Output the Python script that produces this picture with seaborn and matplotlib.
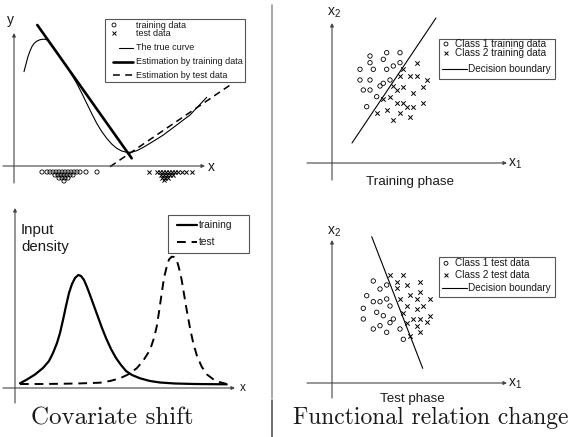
import numpy as np
import pandas as pd
import matplotlib
matplotlib.use("Agg")
import matplotlib.pyplot as plt
from matplotlib.lines import Line2D
from matplotlib.patches import Rectangle
import seaborn as sns

sns.set_theme(style="white")
plt.rcParams["font.family"] = ["Liberation Sans", "DejaVu Sans"]
plt.rcParams["mathtext.fontset"] = "custom"
plt.rcParams["mathtext.rm"] = "Liberation Sans"
plt.rcParams["mathtext.it"] = "Liberation Sans"

# ---------------- data (panel units, origin at axis crossing) ----------------
# top-left: regression under covariate shift
true_x = [10, 12, 14, 16, 18, 20, 22.7, 26, 29.3, 32, 34.3, 38, 42.7, 47.7,
          52.7, 57.7, 62.7, 67.7, 72.7, 77.7, 82.7, 87.7, 92.7, 97.7, 102.7,
          107.7, 112.7, 117.7, 122.7, 129, 136, 142.7, 149.3, 156, 162.7,
          169.3, 176, 184, 192.7]
true_y = [94.3, 102, 109.5, 115, 119.5, 122.5, 124.8, 126.3, 126.8, 126.5,
          125.5, 121, 114.3, 106.8, 99.3, 91.3, 82.7, 73, 62.7, 52.5, 42.7,
          34.5, 27.7, 22, 17.7, 15, 13.7, 13.8, 15.3, 18.5, 22.7, 26.8, 31,
          36, 41, 46, 51, 59.5, 68.7]
est_train_x = [23.3, 117.7]
est_train_y = [141, 7.7]
est_test_x = [96, 218.7]
est_test_y = [-0.7, 82.7]
train_pts_x = [28, 33, 36, 39, 42, 45, 48, 51, 54, 57, 60, 63, 66, 72, 83,
               41, 44, 47, 50, 53, 56, 59,
               45, 48, 51, 54,
               50]
train_pts_y = [-6] * 15 + [-9] * 7 + [-12] * 4 + [-15]
test_pts_x = [135, 143, 146, 149, 152, 155, 158, 161, 164, 168, 172, 178,
              147, 150, 153, 156, 159,
              148, 151, 154,
              150]
test_pts_y = [-6] * 12 + [-9] * 5 + [-12] * 3 + [-14]

# bottom-left: input densities
dens_train_x = [5, 12, 20, 28, 34, 38, 42, 45, 48, 51, 54, 57, 60, 63.3, 66,
                69, 72, 75, 79, 83, 87, 91, 96, 101, 106, 111, 117, 125, 135,
                145, 160, 180, 211.7]
dens_train_y = [4.7, 8.5, 13.5, 20, 27, 35, 45, 55, 68, 82, 95, 104, 110, 113,
                112, 108, 101, 93, 82, 71, 60, 50, 39, 30, 23, 17, 13, 9.7, 7,
                5.5, 4.5, 4, 3.7]
dens_test_x = [5, 25, 45, 65, 85, 95, 105, 113, 121.7, 128, 135, 139, 141.7,
               144, 146.7, 149, 151.7, 154, 156.7, 159, 161.7, 164, 166.7, 169,
               171.7, 175, 178.3, 182, 186.7, 192, 198.3, 205, 211.7]
dens_test_y = [4, 4, 4.2, 4.6, 5.3, 7, 9.7, 13.5, 19.7, 27, 38, 50, 61.3, 76,
               94.7, 110, 121.3, 128.5, 131.3, 131, 128, 120, 108, 94, 78, 60,
               44.7, 32, 21.3, 13.5, 8.7, 5.8, 4]

# top-right: training phase classification
tr_c1_x = [38, 54.7, 68, 38, 51.3, 28, 41.3, 54.7, 61.3, 68, 28, 38, 58, 51.3,
           48, 31.3, 38, 44.7, 34.7]
tr_c1_y = [107, 110.3, 110.3, 100.3, 103.7, 93.7, 93.7, 93.7, 97, 100.3, 83, 83,
           83, 79.7, 77, 73, 73, 66.3, 56.3]
tr_c2_x = [84.7, 71.3, 68, 78, 84.7, 94.7, 61.3, 71.3, 64.7, 91.3, 81.3, 51.3,
           58, 64.7, 71.3, 74.7, 81.3, 91.3, 44.7, 54.7, 68, 78, 61.3]
tr_c2_y = [100.3, 93.7, 87, 87, 87, 83, 77, 76.3, 73, 76.3, 69.7, 63.7, 66.3,
           59.7, 59.7, 56.3, 56.3, 59.7, 49.7, 53, 49.7, 46.3, 43]
tr_bound_x = [20, 104]
tr_bound_y = [20, 145]

# bottom-right: test phase classification
te_c1_x = [41.3, 48, 54.7, 34.7, 41.3, 48, 54.7, 58, 31.3, 44.7, 51.3, 31.3,
           58, 61.3, 41.3, 48, 54.7, 68, 71.3]
te_c1_y = [102, 94, 98, 87.3, 81.3, 81.3, 84, 77, 74.7, 70.7, 67.3, 64, 60.3,
           64, 54, 57.3, 50.7, 54, 43.7]
te_c2_x = [58, 71.3, 64.7, 74.7, 88, 64.7, 88, 68, 78, 84.7, 98, 74.7, 84.7,
           91.3, 71.3, 81.3, 88, 94.7, 98, 74.7, 84.7, 88, 78]
te_c2_y = [108, 108, 101.3, 98, 101.3, 94.7, 91.3, 84, 88, 84, 84, 77, 73.7,
           77, 70.3, 64, 64, 60.7, 67.3, 60.3, 57.3, 50.7, 47.3]
te_bound_x = [39.7, 90.7]
te_bound_y = [146.3, 14.7]

# ---------------- figure ----------------
W, H = 573, 437
fig = plt.figure(figsize=(W / 100, H / 100), dpi=100)
fig.patch.set_facecolor("white")

AX_C = "#444444"
TXT_C = "#1a1a1a"


def panel(px0, py0, px1, py1, ox, oy):
    ax = fig.add_axes([px0 / W, 1 - py1 / H, (px1 - px0) / W, (py1 - py0) / H])
    ax.set_xlim(px0 - ox, px1 - ox)
    ax.set_ylim(oy - py1, oy - py0)
    ax.axis("off")
    return ax


def arrow_axes(ax, xr, yr):
    ax.annotate("", xy=(xr[1], 0), xytext=(xr[0], 0),
                arrowprops=dict(arrowstyle="-|>", lw=0.8, color=AX_C,
                                mutation_scale=5, shrinkA=0, shrinkB=0))
    ax.annotate("", xy=(0, yr[1]), xytext=(0, yr[0]),
                arrowprops=dict(arrowstyle="-|>", lw=0.8, color=AX_C,
                                mutation_scale=5, shrinkA=0, shrinkB=0))


def legend_box(ax, x0, y0, x1, y1):
    ax.add_patch(Rectangle((x0, y1), x1 - x0, y0 - y1, fill=True, fc="white",
                           ec="#555555", lw=0.8, zorder=5))


def line(ax, x, y, lw, ls="-"):
    sns.lineplot(x=x, y=y, ax=ax, color="black", lw=lw, linestyle=ls,
                 sort=False, estimator=None, legend=False)


def circles(ax, x, y, s=10):
    sns.scatterplot(x=x, y=y, ax=ax, marker="o", s=s, facecolor="none",
                    edgecolor="black", linewidth=0.6, legend=False, zorder=4)


def crosses(ax, x, y, s=10):
    sns.scatterplot(x=x, y=y, ax=ax, marker="x", s=s, color="black",
                    linewidth=0.7, legend=False, zorder=4)


# ---- top-left ----
ax1 = panel(0, 0, 270, 195, 14, 166)
arrow_axes(ax1, (-11, 191), (-17, 133))
ax1.text(197, -1, "x", fontsize=10, color=TXT_C, ha="center", va="center")
ax1.text(-4, 146, "y", fontsize=10, color=TXT_C, ha="center", va="center")
line(ax1, true_x, true_y, 0.8)
line(ax1, est_train_x, est_train_y, 1.9)
line(ax1, est_test_x, est_test_y, 1.1, (0, (4.5, 3)))
circles(ax1, train_pts_x, train_pts_y, s=9)
crosses(ax1, test_pts_x, test_pts_y, s=9)
legend_box(ax1, 91, 147, 231, 84)
lf = 6.5
ax1.scatter([100], [141], marker="o", s=8, fc="none", ec="black", lw=0.6, zorder=6)
ax1.scatter([100], [133], marker="x", s=8, c="black", lw=0.7, zorder=6)
ax1.plot([105, 119], [118, 118], color="black", lw=0.8, zorder=6)
ax1.plot([99, 119], [104, 104], color="black", lw=1.9, zorder=6)
ax1.plot([99, 119], [91, 91], color="black", lw=1.1, ls=(0, (4.5, 3.5)), zorder=6)
for yy, t in zip([141, 133, 118, 104, 91],
                 ["training data", "test data", "The true curve",
                  "Estimation by training data", "Estimation by test data"]):
    ax1.text(122, yy, t, fontsize=lf, color=TXT_C, va="center", ha="left", zorder=7)

# ---- bottom-left ----
ax2 = panel(0, 195, 270, 410, 15, 388)
arrow_axes(ax2, (-12, 220), (-15, 180))
ax2.text(228, 0, "x", fontsize=8.5, color=TXT_C, ha="center", va="center")
ax2.text(6, 158, "Input", fontsize=10.8, color=TXT_C, ha="left", va="center")
ax2.text(6, 141, "density", fontsize=10.8, color=TXT_C, ha="left", va="center")
line(ax2, dens_train_x, dens_train_y, 1.6)
line(ax2, dens_test_x, dens_test_y, 1.4, (0, (4.5, 3)))
legend_box(ax2, 153, 173, 234, 135)
ax2.plot([162, 182], [163, 163], color="black", lw=1.6, zorder=6)
ax2.plot([162, 182], [146, 146], color="black", lw=1.4, ls=(0, (4.5, 3)), zorder=6)
ax2.text(184, 163, "training", fontsize=7.3, color=TXT_C, va="center", zorder=7)
ax2.text(184, 146, "test", fontsize=7.3, color=TXT_C, va="center", zorder=7)

# ---- top-right ----
ax3 = panel(275, 0, 573, 195, 332, 163)
arrow_axes(ax3, (-25, 175), (-17, 140))
ax3.text(176, -1, r"$\mathregular{x_1}$", fontsize=10, color=TXT_C, ha="left", va="center")
ax3.text(2, 150, r"$\mathregular{x_2}$", fontsize=10, color=TXT_C, ha="center", va="center")
ax3.text(78, -19, "Training phase", fontsize=9.6, color=TXT_C, ha="center", va="center")
line(ax3, tr_bound_x, tr_bound_y, 0.8)
circles(ax3, tr_c1_x, tr_c1_y)
crosses(ax3, tr_c2_x, tr_c2_y)
legend_box(ax3, 107, 124, 223, 84)
ax3.scatter([114], [119], marker="o", s=8, fc="none", ec="black", lw=0.6, zorder=6)
ax3.scatter([114], [110], marker="x", s=8, c="black", lw=0.7, zorder=6)
ax3.plot([110, 135], [94, 94], color="black", lw=0.8, zorder=6)
ax3.text(123, 119, "Class 1 training data", fontsize=7.2, color=TXT_C, va="center", zorder=7)
ax3.text(123, 110, "Class 2 training data", fontsize=7.2, color=TXT_C, va="center", zorder=7)
ax3.text(135.5, 94, "Decision boundary", fontsize=7.2, color=TXT_C, va="center", zorder=7)

# ---- bottom-right ----
ax4 = panel(275, 200, 573, 410, 332, 383)
arrow_axes(ax4, (-25, 175), (-15, 143))
ax4.text(176, -1, r"$\mathregular{x_1}$", fontsize=10, color=TXT_C, ha="left", va="center")
ax4.text(2, 151, r"$\mathregular{x_2}$", fontsize=10, color=TXT_C, ha="center", va="center")
ax4.text(80, -16, "Test phase", fontsize=9.6, color=TXT_C, ha="center", va="center")
line(ax4, te_bound_x, te_bound_y, 0.8)
circles(ax4, te_c1_x, te_c1_y)
crosses(ax4, te_c2_x, te_c2_y)
legend_box(ax4, 107, 126.3, 223, 86.3)
ax4.scatter([114], [119.7], marker="o", s=8, fc="none", ec="black", lw=0.6, zorder=6)
ax4.scatter([114], [108], marker="x", s=8, c="black", lw=0.7, zorder=6)
ax4.plot([110, 135], [95.3, 95.3], color="black", lw=0.8, zorder=6)
ax4.text(123, 119.7, "Class 1 test data", fontsize=7.2, color=TXT_C, va="center", zorder=7)
ax4.text(123, 108, "Class 2 test data", fontsize=7.2, color=TXT_C, va="center", zorder=7)
ax4.text(135.5, 95.3, "Decision boundary", fontsize=7.2, color=TXT_C, va="center", zorder=7)

# ---- divider and captions ----
fig.add_artist(Line2D([272 / W, 272 / W], [1 - 5 / H, 1 - 398 / H],
                      transform=fig.transFigure, color="#9a9a9a", lw=1.2))
fig.add_artist(Line2D([272 / W, 272 / W], [1 - 400 / H, 0],
                      transform=fig.transFigure, color="#555555", lw=1.2))
fig.text(112 / W, 1 - 418 / H, "Covariate shift", family="cmr10", fontsize=18,
         color=TXT_C, ha="center", va="center")
fig.text(431 / W, 1 - 418 / H, "Functional relation change", family="cmr10",
         fontsize=17, color=TXT_C, ha="center", va="center")

fig.savefig("out.png", dpi=100, facecolor="white")
